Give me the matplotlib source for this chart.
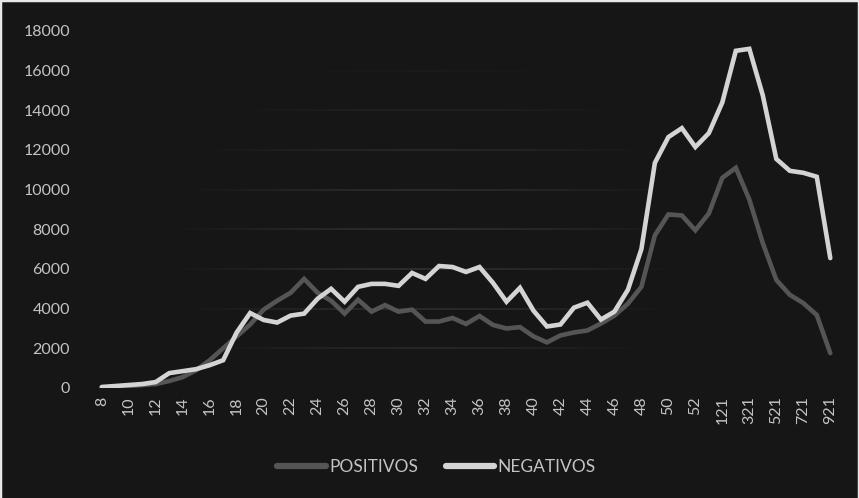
import numpy as np
import matplotlib.pyplot as plt
from matplotlib.collections import LineCollection
from matplotlib.lines import Line2D

plt.rcParams['font.family'] = ['Lato', 'DejaVu Sans']

# semanas epidemiologicas (2020: 8..53, 2021: 1..9 -> "121".."921")
semanas = [str(s) for s in range(8, 54)] + [f"{m}21" for m in range(1, 10)]

positivos = [30, 60, 100, 150, 200, 350, 550, 900, 1400, 2000,
             2600, 3200, 3950, 4400, 4800, 5500, 4800, 4400, 3750, 4450,
             3850, 4180, 3850, 3950, 3350, 3350, 3530, 3230, 3630, 3180,
             3000, 3070, 2600, 2300, 2650, 2800, 2900, 3250, 3650, 4250,
             5100, 7700, 8750, 8700, 7950, 8800, 10600, 11100, 9500, 7300,
             5450, 4700, 4280, 3680, 1760]

negativos = [50, 100, 150, 200, 300, 750, 850, 950, 1150, 1400,
             2800, 3780, 3430, 3300, 3650, 3750, 4500, 5000, 4350, 5100,
             5250, 5250, 5150, 5800, 5500, 6150, 6100, 5850, 6100, 5300,
             4350, 5050, 3900, 3100, 3200, 4050, 4300, 3450, 3850, 4950,
             7000, 11350, 12650, 13100, 12150, 12850, 14400, 17000, 17100, 14750,
             11550, 10950, 10850, 10650, 6550]

bg = '#161616'
txt = '#c4c4c4'

fig = plt.figure(figsize=(8.59, 4.98), dpi=100, facecolor=bg)
ax = fig.add_axes([0.1106, 0.2209, 0.8638, 0.7169], facecolor=bg)

x = np.arange(len(semanas))
ax.set_xlim(-0.5, len(semanas) - 0.5)
ax.set_ylim(0, 18000)

# faint gridlines that fade out toward the edges
cx, cy = 24, 7000
for yv in range(2000, 18001, 2000):
    xs = np.linspace(-0.5, len(semanas) - 0.5, 300)
    segs = [[(xs[k], yv), (xs[k + 1], yv)] for k in range(len(xs) - 1)]
    xm = (xs[:-1] + xs[1:]) / 2
    d = ((xm - cx) / 20) ** 2 + ((yv - cy) / 11000) ** 2
    a = np.clip(1.0 - d, 0, 1) ** 1.5 * 0.9
    cols = [(0.2, 0.2, 0.2, ai) for ai in a]
    ax.add_collection(LineCollection(segs, colors=cols, linewidths=1.2, zorder=1))

ax.plot(x, positivos, color='#555555', lw=3.3, solid_joinstyle='miter',
        solid_capstyle='round', zorder=3)
ax.plot(x, negativos, color='#d4d4d4', lw=3.3, solid_joinstyle='miter',
        solid_capstyle='round', zorder=4)

ax.set_yticks(range(0, 18001, 2000))
ax.set_xticks(x[::2])
ax.set_xticklabels(semanas[::2], rotation=90)
ax.tick_params(axis='both', colors=txt, labelsize=11.5, length=0)
ax.tick_params(axis='y', pad=18)
ax.tick_params(axis='x', pad=6)
for s in ax.spines.values():
    s.set_visible(False)

handles = [Line2D([], [], color='#555555', lw=4.5, solid_capstyle='round'),
           Line2D([], [], color='#d4d4d4', lw=4.5, solid_capstyle='round')]
fig.legend(handles, ['POSITIVOS', 'NEGATIVOS'], loc='center',
           bbox_to_anchor=(0.508, 0.062), ncol=2, frameon=False,
           labelcolor=txt, fontsize=12.5, handlelength=2.8, handletextpad=0.2,
           columnspacing=1.6)

# thin light frame on the image edges
for coords in [([0, 0], [0, 1]), ([0, 1], [1, 1]), ([1, 1], [0, 1])]:
    fig.add_artist(Line2D(coords[0], coords[1], transform=fig.transFigure,
                          color='#e8e8e8', lw=2.5))

fig.savefig('out.png', dpi=100, facecolor=bg)
